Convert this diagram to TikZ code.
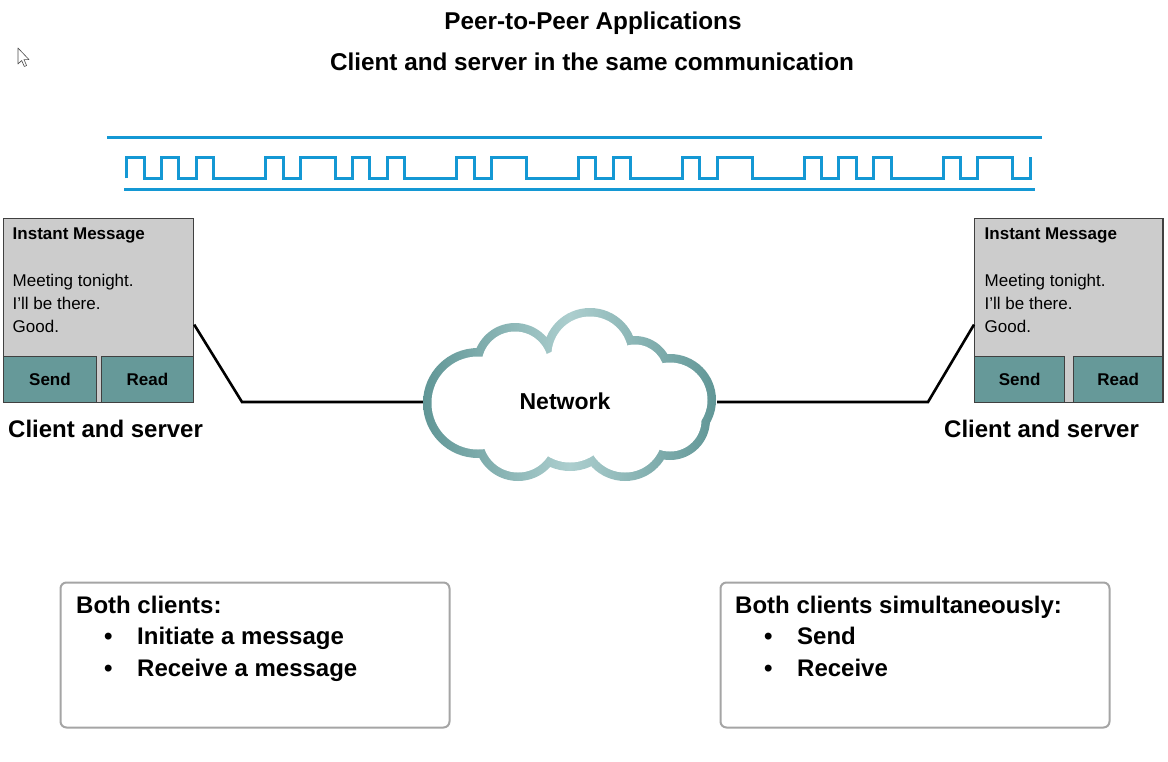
\documentclass[tikz,border=0pt]{standalone}
\usepackage{fontspec}
\setmainfont{Liberation Sans}
\usetikzlibrary{calc}
\definecolor{wave}{RGB}{20,152,212}
\definecolor{msggray}{RGB}{204,204,204}
\definecolor{btnteal}{RGB}{102,153,153}
\definecolor{clouddark}{RGB}{92,147,147}
\definecolor{cloudlight}{RGB}{172,206,206}
\definecolor{notegray}{RGB}{165,165,165}
\begin{document}
\begin{tikzpicture}[x=1pt,y=-1pt,
  title/.style={font=\fontsize{24.3}{28}\selectfont\bfseries, inner sep=0pt, anchor=base},
  big/.style={font=\fontsize{24}{28}\selectfont\bfseries, inner sep=0pt, anchor=base west},
  msgtext/.style={font=\fontsize{17}{20}\selectfont, inner sep=0pt, anchor=base west},
  msghead/.style={font=\fontsize{17}{20}\selectfont\bfseries, inner sep=0pt, anchor=base west},
  msgbox/.style={draw=black!75, fill=msggray, line width=1.2pt, minimum height=184pt, inner sep=0pt, anchor=north west},
  btn/.style={draw=black!75, fill=btnteal, line width=1.2pt, minimum height=46pt, inner sep=0pt, anchor=north west, font=\fontsize{17}{20}\selectfont\bfseries},
  link/.style={line width=2.6pt, black, line join=miter},
  wavestyle/.style={draw=wave, line width=3pt},
  note/.style={draw=notegray, line width=2pt, rounded corners=6pt, fill=white, minimum width=389pt, minimum height=145pt, inner sep=0pt, anchor=north west},
]
\useasboundingbox (0,0) rectangle (1168,761);

% titles
\node[title] (t1) at (593,29) {Peer-to-Peer Applications};
\node[title] (t2) at (592,70) {Client and server in the same communication};

% cursor
\draw[black!70, fill=white, line width=0.6pt, line join=round] (18,48) -- (18,64) -- (21.7,60.5) -- (24.3,66.5) -- (26.6,65.5) -- (24,59.6) -- (29,59.6) -- cycle;

% signal
\def\wh{157.3}\def\wl{178.3}
\draw[wavestyle] (107,137.7) -- (1042,137.7);
\draw[wavestyle] (124,189.3) -- (1035,189.3);
\draw[wavestyle] (126.7,\wl) |- (144.1,\wh) |- (161.4,\wl) |- (178.8,\wh) |- (196.2,\wl)
  |- (213.6,\wh) |- (265.7,\wl) |- (283.0,\wh) |- (300.4,\wl) |- (335.1,\wh)
  |- (352.5,\wl) |- (369.9,\wh) |- (387.3,\wl) |- (404.6,\wh) |- (456.7,\wl)
  |- (474.1,\wh) |- (491.5,\wl) |- (526.2,\wh) |- (578.3,\wl) |- (595.7,\wh)
  |- (613.1,\wl) |- (630.4,\wh) |- (682.5,\wl) |- (699.9,\wh) |- (717.3,\wl)
  |- (752.0,\wh) |- (804.1,\wl) |- (821.5,\wh) |- (838.9,\wl) |- (856.2,\wh)
  |- (873.6,\wl) |- (891.0,\wh) |- (943.1,\wl) |- (960.5,\wh) |- (977.8,\wl)
  |- (1012.6,\wh) |- (1030.0,\wl) -- (1030.0,\wh);

% left client
\node[msgbox, minimum width=190pt] (lmsg) at (3,218) {};
\node[btn, minimum width=92.7pt] (lsend) at (3,356) {Send};
\node[btn, minimum width=91.7pt] (lread) at (101,356) {Read};
\node[msghead] (lhead) at (12.5,239) {Instant Message};
\node[msgtext] (ll1) at (12.5,286) {Meeting tonight.};
\node[msgtext] (ll2) at (12.5,309) {I’ll be there.};
\node[msgtext] (ll3) at (12.5,332) {Good.};
\node[big] (lcs) at (8,437) {Client and server};

% right client
\node[msgbox, minimum width=188.3pt] (rmsg) at (974,218) {};
\node[btn, minimum width=90pt] (rsend) at (974,356) {Send};
\node[btn, minimum width=89.6pt] (rread) at (1072.7,356) {Read};
\node[msghead] (rhead) at (984.5,239) {Instant Message};
\node[msgtext] (rl1) at (984.5,286) {Meeting tonight.};
\node[msgtext] (rl2) at (984.5,309) {I’ll be there.};
\node[msgtext] (rl3) at (984.5,332) {Good.};
\node[big] (rcs) at (944,437) {Client and server};

% cloud anchor node
\node[minimum width=294pt, minimum height=170pt, inner sep=0pt] (cloud) at (570,402) {};
\coordinate (lbend) at (242,402);
\coordinate (rbend) at (928,402);
\draw[link] ([yshift=-14pt]lmsg.east) -- (lbend) -- (cloud.west);
\draw[link] (cloud.east) -- (rbend) -- ([yshift=-14pt]rmsg.west);

% cloud shape: shaded union of outer circles, then white inner circles
\def\cloudlist{478/403/55, 515/365/42, 590/355/47, 635/374/38, 670/400/46, 670/420/40, 625/435/46, 570/421/50, 518/437/44, 570/400/60}
\begin{scope}
  \clip \foreach \cx/\cy/\r in \cloudlist {(\cx,\cy) circle[radius=\r]};
  \shade[left color=clouddark, right color=clouddark, middle color=cloudlight] (415,300) rectangle (725,490);
\end{scope}
\foreach \cx/\cy/\r in \cloudlist
  \fill[white] (\cx,\cy) circle[radius={\r-8.5}];
\node[font=\fontsize{23}{26}\selectfont\bfseries, inner sep=0pt] (netlabel) at (565,401) {Network};

% notes
\node[note] (lnote) at (59.5,581.5) {};
\node[note] (rnote) at (719.5,581.5) {};
\node[big] (lnh) at (76,613) {Both clients:};
\node[big] (lb1) at (104,644) {•};
\node[big] (lt1) at (137,644) {Initiate a message};
\node[big] (lb2) at (104,676) {•};
\node[big] (lt2) at (137,676) {Receive a message};
\node[big] (rnh) at (735,613) {Both clients simultaneously:};
\node[big] (rb1) at (764,644) {•};
\node[big] (rt1) at (797,644) {Send};
\node[big] (rb2) at (764,676) {•};
\node[big] (rt2) at (797,676) {Receive};
\end{tikzpicture}
\end{document}
